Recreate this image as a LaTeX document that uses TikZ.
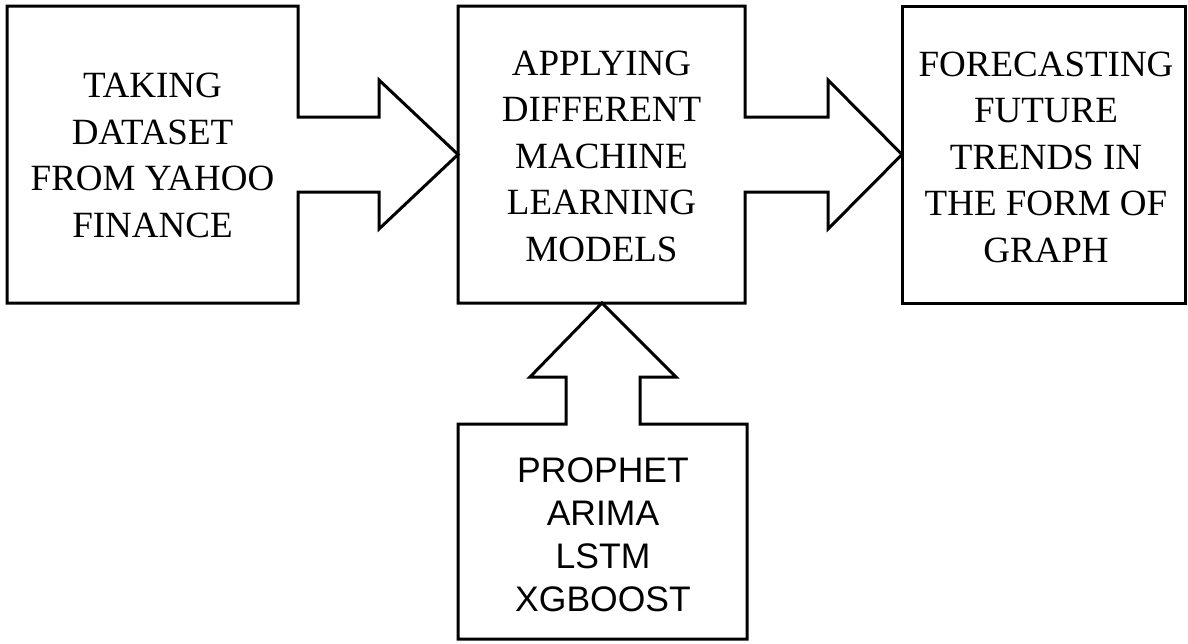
\documentclass[tikz,border=0pt]{standalone}
\usepackage{fontspec}
\setmainfont{Liberation Serif}
\setsansfont{Liberation Sans}
\begin{document}
\begin{tikzpicture}[x=1pt, y=-1pt,
    outline/.style={line width=3pt, line join=miter, black},
    stagetext/.style={align=center, inner sep=0pt, font=\fontsize{37}{46.5}\selectfont},
    modeltext/.style={align=center, inner sep=0pt, font=\sffamily\fontsize{35.5}{43}\selectfont}]
\useasboundingbox (0,0) rectangle (1188,643);
% first box, its arrow running into the second box
\draw[outline] (298,192) -- (298,303) -- (7,303) -- (7,6) -- (298,6) -- (298,117)
    -- (379,117) -- (379,80) -- (458,154.5) -- (379,229) -- (379,192) -- cycle;
% second box, its arrow running into the third box
\draw[outline] (745,192) -- (745,303) -- (458,303) -- (458,6) -- (745,6) -- (745,117)
    -- (828,117) -- (828,80) -- (902,154.5) -- (828,229) -- (828,192) -- cycle;
% third box
\draw[outline] (902,6) rectangle (1185,303);
% model box, its arrow pointing up into the second box
\draw[outline] (566,424) -- (566,377) -- (530,377) -- (602,303) -- (676,377) -- (640,377)
    -- (640,424) -- (747,424) -- (747,639) -- (458,639) -- (458,424) -- cycle;
% stage labels
\node[stagetext] (dataset) at (152.5,155.5) {TAKING\\DATASET\\FROM YAHOO\\FINANCE};
\node[stagetext] (models) at (601.5,156) {APPLYING\\DIFFERENT\\MACHINE\\LEARNING\\MODELS};
\node[stagetext] (forecast) at (1046,157) {FORECASTING\\FUTURE\\TRENDS IN\\THE FORM OF\\GRAPH};
% model names
\node[modeltext] (algos) at (603,535) {PROPHET\\ARIMA\\LSTM\\XGBOOST};
\end{tikzpicture}
\end{document}
